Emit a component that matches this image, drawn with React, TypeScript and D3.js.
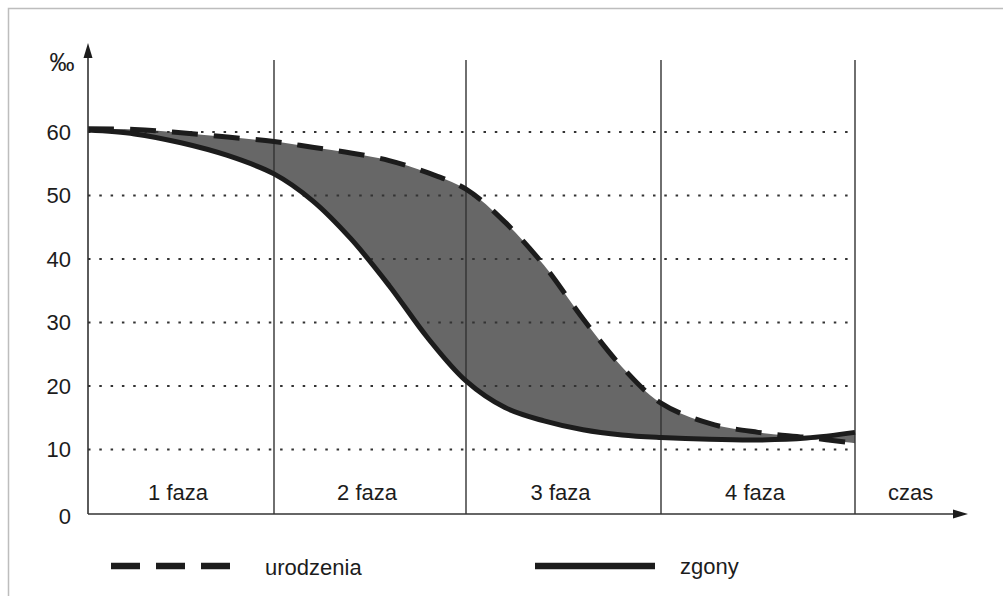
import * as d3 from 'd3';

// phase time units (0..4) and the rates in per mille
const times = [0, 0.25, 0.5, 0.75, 1, 1.2, 1.4, 1.6, 1.8, 2, 2.2, 2.4, 2.6, 2.8, 3, 3.25, 3.5, 3.75, 4];
const births = [60.5, 60.4, 59.9, 59.2, 58.5, 57.6, 56.7, 55.5, 53.6, 51.0, 45.8, 39.0, 30.6, 23.0, 17.3, 14.1, 12.7, 11.9, 11.0];
const deaths = [60.3, 59.7, 58.3, 56.3, 53.4, 49.2, 43.2, 35.8, 27.6, 20.8, 16.6, 14.5, 13.1, 12.3, 11.9, 11.6, 11.5, 11.8, 12.7];

const phaseEdges = [0, 1, 2, 3, 4];
const phaseLabels = ['1 faza', '2 faza', '3 faza', '4 faza'];
const yTicks = [0, 10, 20, 30, 40, 50, 60];
const gridTicks = [10, 20, 30, 40, 50, 60];

const W = 1003;
const H = 596;
const FONT = 'Arial, "Liberation Sans", sans-serif';
const INK = '#1c1c1c';
const AXIS = '#333';

export default function App() {
  const x = d3.scaleLinear().domain(phaseEdges).range([88, 274, 466, 661, 855]);
  const y = d3.scaleLinear().domain([0, 60]).range([513, 132]);
  const axisY = 514;
  const axisX = x(0);

  const rows = times.map((t, i) => ({ t, b: births[i], d: deaths[i] }));
  const curve = d3.curveCatmullRom.alpha(0.5);

  const birthLine = d3
    .line<(typeof rows)[number]>()
    .x((r) => x(r.t))
    .y((r) => y(r.b))
    .curve(curve);

  const deathLine = d3
    .line<(typeof rows)[number]>()
    .x((r) => x(r.t))
    .y((r) => y(r.d))
    .curve(curve);

  const gap = d3
    .area<(typeof rows)[number]>()
    .x((r) => x(r.t))
    .y0((r) => y(r.d))
    .y1((r) => y(r.b))
    .curve(curve);

  const xEnd = 968;
  const yTop = 43;

  return (
    <svg
      width={W}
      height={H}
      style={{ position: 'absolute', left: 0, top: 0, background: '#fff' }}
      fontFamily={FONT}
    >
      {/* frame */}
      <rect x={8.5} y={8.5} width={W + 20} height={H + 20} fill="none" stroke="#bdbdbd" strokeWidth={1.5} />

      {/* fill between curves */}
      <path d={gap(rows) ?? ''} fill="#676767" />

      {/* dotted grid */}
      {gridTicks.map((v) => (
        <line
          key={v}
          x1={axisX}
          x2={x(4)}
          y1={y(v)}
          y2={y(v)}
          stroke={AXIS}
          strokeWidth={2}
          strokeDasharray="2.5 8.8"
        />
      ))}

      {/* phase separators */}
      {phaseEdges.slice(1).map((p) => (
        <line key={p} x1={x(p)} x2={x(p)} y1={60} y2={axisY} stroke={AXIS} strokeWidth={1.4} />
      ))}

      {/* curves */}
      <path d={deathLine(rows) ?? ''} fill="none" stroke={INK} strokeWidth={5} strokeLinejoin="round" />
      <path
        d={birthLine(rows) ?? ''}
        fill="none"
        stroke={INK}
        strokeWidth={5}
        strokeDasharray="26 16"
      />

      {/* axes */}
      <line x1={axisX} x2={axisX} y1={axisY} y2={yTop + 10} stroke={AXIS} strokeWidth={1.6} />
      <path d={`M${axisX},${yTop} L${axisX - 4.5},${yTop + 15} L${axisX + 4.5},${yTop + 15} Z`} fill={INK} />
      <line x1={axisX} x2={xEnd - 10} y1={axisY} y2={axisY} stroke={AXIS} strokeWidth={1.6} />
      <path d={`M${xEnd},${axisY} L${xEnd - 15},${axisY - 4.5} L${xEnd - 15},${axisY + 4.5} Z`} fill={INK} />

      {/* y labels */}
      {yTicks.map((v) => (
        <text
          key={v}
          x={71}
          y={v === 0 ? axisY + 2 : y(v)}
          dy="0.36em"
          textAnchor="end"
          fontSize={22}
          fill={INK}
        >
          {v}
        </text>
      ))}
      <text x={62} y={62} dy="0.36em" textAnchor="middle" fontSize={25} fill={INK}>
        ‰
      </text>

      {/* phase labels */}
      {phaseLabels.map((label, i) => (
        <text
          key={label}
          x={(x(phaseEdges[i]) + x(phaseEdges[i + 1])) / 2 - 3}
          y={500}
          textAnchor="middle"
          fontSize={22}
          fill={INK}
        >
          {label}
        </text>
      ))}
      <text x={888} y={500} fontSize={22} fill={INK}>
        czas
      </text>

      {/* legend */}
      <line x1={111} x2={231} y1={566} y2={566} stroke={INK} strokeWidth={6.5} strokeDasharray="29 16" />
      <text x={265} y={575} fontSize={22} fill={INK}>
        urodzenia
      </text>
      <line x1={535} x2={655} y1={566} y2={566} stroke={INK} strokeWidth={6.5} />
      <text x={680} y={574} fontSize={22} fill={INK}>
        zgony
      </text>
    </svg>
  );
}
